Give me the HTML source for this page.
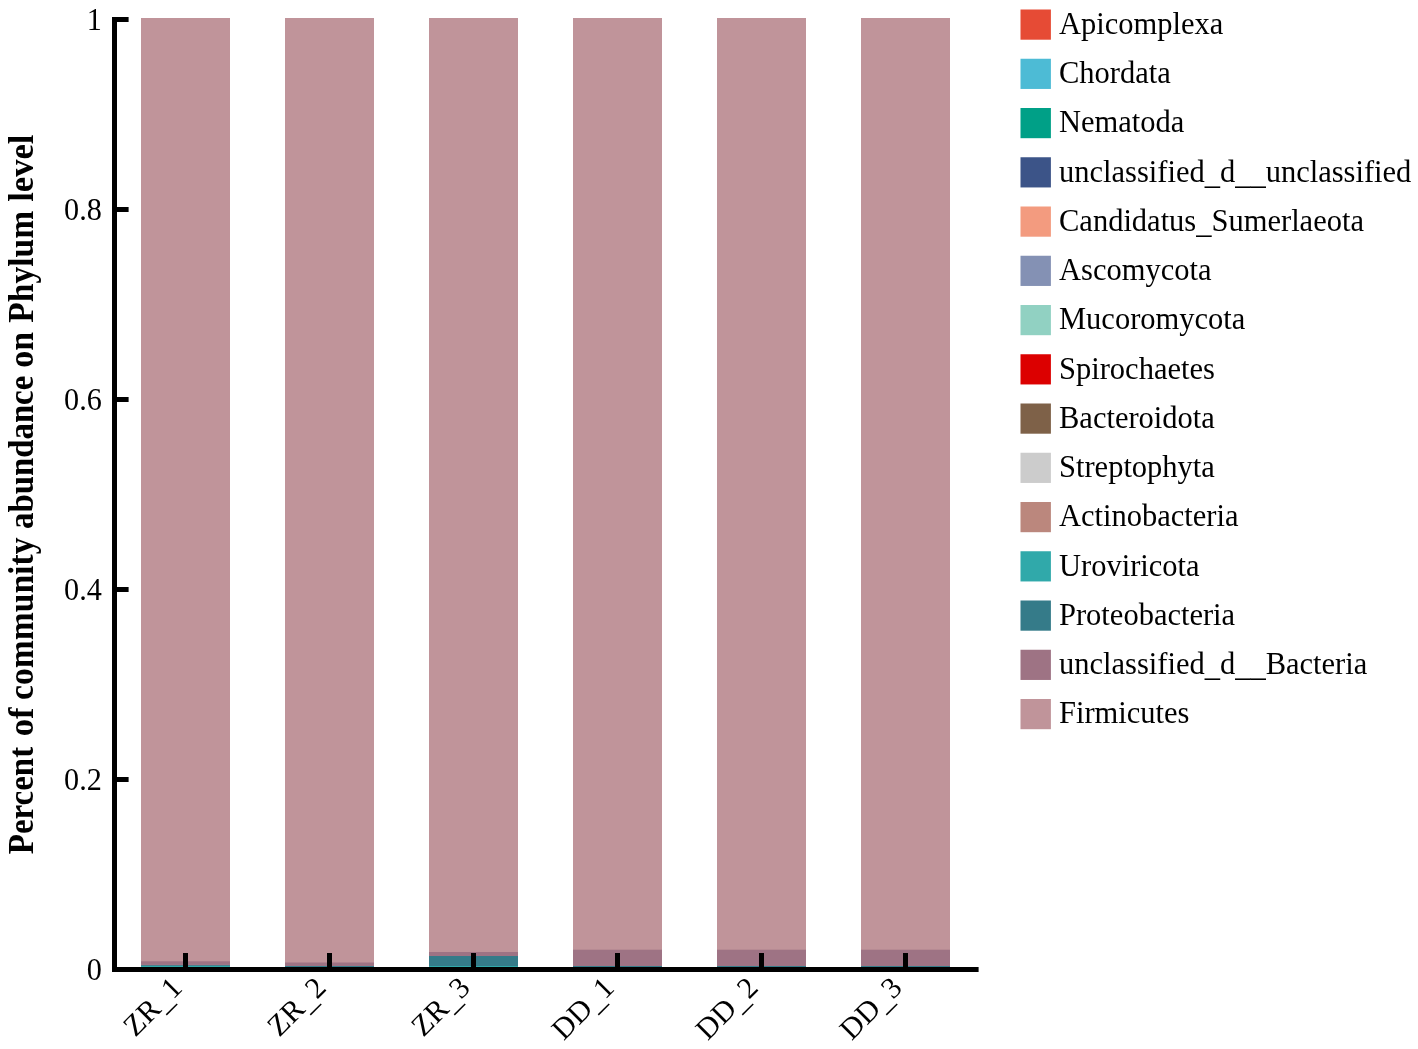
<!DOCTYPE html><html><head><meta charset="utf-8"><style>html,body{margin:0;padding:0;background:#fff;overflow:hidden}svg{display:block;will-change:transform}text{font-family:"Liberation Serif",serif}</style></head><body><svg width="1418" height="1049" viewBox="0 0 1418 1049">
<rect width="1418" height="1049" fill="#fff"/>
<rect x="141" y="18.0" width="89" height="949.0" fill="#C0949A"/>
<rect x="141" y="965.80" width="89" height="1.20" fill="#30A9AA"/>
<rect x="141" y="964.80" width="89" height="1.00" fill="#357B89"/>
<rect x="141" y="961.30" width="89" height="3.50" fill="#9E7384"/>
<rect x="285" y="18.0" width="89" height="949.0" fill="#C0949A"/>
<rect x="285" y="966.00" width="89" height="1.00" fill="#357B89"/>
<rect x="285" y="962.50" width="89" height="3.50" fill="#9E7384"/>
<rect x="429" y="18.0" width="89" height="949.0" fill="#C0949A"/>
<rect x="429" y="966.00" width="89" height="1.00" fill="#30A9AA"/>
<rect x="429" y="956.00" width="89" height="10.00" fill="#357B89"/>
<rect x="429" y="952.00" width="89" height="4.00" fill="#9E7384"/>
<rect x="573" y="18.0" width="89" height="949.0" fill="#C0949A"/>
<rect x="573" y="966.00" width="89" height="1.00" fill="#357B89"/>
<rect x="573" y="949.70" width="89" height="16.30" fill="#9E7384"/>
<rect x="717" y="18.0" width="89" height="949.0" fill="#C0949A"/>
<rect x="717" y="966.00" width="89" height="1.00" fill="#357B89"/>
<rect x="717" y="949.70" width="89" height="16.30" fill="#9E7384"/>
<rect x="861" y="18.0" width="89" height="949.0" fill="#C0949A"/>
<rect x="861" y="966.00" width="89" height="1.00" fill="#357B89"/>
<rect x="861" y="949.70" width="89" height="16.30" fill="#9E7384"/>
<rect x="112" y="17" width="5" height="955" fill="#000"/>
<rect x="112" y="967" width="866.6" height="5" fill="#000"/>
<rect x="112" y="967.0" width="16.6" height="5" fill="#000"/>
<text transform="translate(101.8,979.90) scale(0.975,1)" text-anchor="end" font-family="Liberation Serif" font-size="31">0</text>
<rect x="112" y="777.0" width="16.6" height="5" fill="#000"/>
<text transform="translate(101.8,789.90) scale(0.975,1)" text-anchor="end" font-family="Liberation Serif" font-size="31">0.2</text>
<rect x="112" y="587.0" width="16.6" height="5" fill="#000"/>
<text transform="translate(101.8,599.90) scale(0.975,1)" text-anchor="end" font-family="Liberation Serif" font-size="31">0.4</text>
<rect x="112" y="397.0" width="16.6" height="5" fill="#000"/>
<text transform="translate(101.8,409.90) scale(0.975,1)" text-anchor="end" font-family="Liberation Serif" font-size="31">0.6</text>
<rect x="112" y="207.0" width="16.6" height="5" fill="#000"/>
<text transform="translate(101.8,219.90) scale(0.975,1)" text-anchor="end" font-family="Liberation Serif" font-size="31">0.8</text>
<rect x="112" y="17.0" width="16.6" height="5" fill="#000"/>
<text transform="translate(101.8,29.90) scale(0.975,1)" text-anchor="end" font-family="Liberation Serif" font-size="31">1</text>
<rect x="183.0" y="953" width="5" height="14" fill="#000"/>
<text transform="translate(183.5,989.3) rotate(-45)" text-anchor="end" font-family="Liberation Serif" font-size="30">ZR<tspan dy="2.8">_</tspan><tspan dy="-2.8">1</tspan></text>
<rect x="327.0" y="953" width="5" height="14" fill="#000"/>
<text transform="translate(327.5,989.3) rotate(-45)" text-anchor="end" font-family="Liberation Serif" font-size="30">ZR<tspan dy="2.8">_</tspan><tspan dy="-2.8">2</tspan></text>
<rect x="471.0" y="953" width="5" height="14" fill="#000"/>
<text transform="translate(471.5,989.3) rotate(-45)" text-anchor="end" font-family="Liberation Serif" font-size="30">ZR<tspan dy="2.8">_</tspan><tspan dy="-2.8">3</tspan></text>
<rect x="615.0" y="953" width="5" height="14" fill="#000"/>
<text transform="translate(615.5,989.3) rotate(-45)" text-anchor="end" font-family="Liberation Serif" font-size="30">DD<tspan dy="2.8">_</tspan><tspan dy="-2.8">1</tspan></text>
<rect x="759.0" y="953" width="5" height="14" fill="#000"/>
<text transform="translate(759.5,989.3) rotate(-45)" text-anchor="end" font-family="Liberation Serif" font-size="30">DD<tspan dy="2.8">_</tspan><tspan dy="-2.8">2</tspan></text>
<rect x="903.0" y="953" width="5" height="14" fill="#000"/>
<text transform="translate(903.5,989.3) rotate(-45)" text-anchor="end" font-family="Liberation Serif" font-size="30">DD<tspan dy="2.8">_</tspan><tspan dy="-2.8">3</tspan></text>
<rect x="1020.5" y="9.50" width="30.4" height="30.2" fill="#E64B35"/>
<text x="1059" y="33.90" font-family="Liberation Serif" font-size="30.5">Apicomplexa</text>
<rect x="1020.5" y="58.75" width="30.4" height="30.2" fill="#4DBBD5"/>
<text x="1059" y="83.15" font-family="Liberation Serif" font-size="30.5">Chordata</text>
<rect x="1020.5" y="108.00" width="30.4" height="30.2" fill="#00A087"/>
<text x="1059" y="132.40" font-family="Liberation Serif" font-size="30.5">Nematoda</text>
<rect x="1020.5" y="157.25" width="30.4" height="30.2" fill="#3C5488"/>
<text x="1059" y="181.65" font-family="Liberation Serif" font-size="30.5">unclassified<tspan dy="2.3">_</tspan><tspan dy="-2.3">d</tspan><tspan dy="2.3">_</tspan><tspan dy="0">_</tspan><tspan dy="-2.3">u</tspan>nclassified</text>
<rect x="1020.5" y="206.50" width="30.4" height="30.2" fill="#F39B7F"/>
<text x="1059" y="230.90" font-family="Liberation Serif" font-size="30.5">Candidatus<tspan dy="2.3">_</tspan><tspan dy="-2.3">S</tspan>umerlaeota</text>
<rect x="1020.5" y="255.75" width="30.4" height="30.2" fill="#8491B4"/>
<text x="1059" y="280.15" font-family="Liberation Serif" font-size="30.5">Ascomycota</text>
<rect x="1020.5" y="305.00" width="30.4" height="30.2" fill="#91D1C2"/>
<text x="1059" y="329.40" font-family="Liberation Serif" font-size="30.5">Mucoromycota</text>
<rect x="1020.5" y="354.25" width="30.4" height="30.2" fill="#DC0000"/>
<text x="1059" y="378.65" font-family="Liberation Serif" font-size="30.5">Spirochaetes</text>
<rect x="1020.5" y="403.50" width="30.4" height="30.2" fill="#7E6148"/>
<text x="1059" y="427.90" font-family="Liberation Serif" font-size="30.5">Bacteroidota</text>
<rect x="1020.5" y="452.75" width="30.4" height="30.2" fill="#CCCCCC"/>
<text x="1059" y="477.15" font-family="Liberation Serif" font-size="30.5">Streptophyta</text>
<rect x="1020.5" y="502.00" width="30.4" height="30.2" fill="#BB877D"/>
<text x="1059" y="526.40" font-family="Liberation Serif" font-size="30.5">Actinobacteria</text>
<rect x="1020.5" y="551.25" width="30.4" height="30.2" fill="#30A9AA"/>
<text x="1059" y="575.65" font-family="Liberation Serif" font-size="30.5">Uroviricota</text>
<rect x="1020.5" y="600.50" width="30.4" height="30.2" fill="#357B89"/>
<text x="1059" y="624.90" font-family="Liberation Serif" font-size="30.5">Proteobacteria</text>
<rect x="1020.5" y="649.75" width="30.4" height="30.2" fill="#9E7384"/>
<text x="1059" y="674.15" font-family="Liberation Serif" font-size="30.5">unclassified<tspan dy="2.3">_</tspan><tspan dy="-2.3">d</tspan><tspan dy="2.3">_</tspan><tspan dy="0">_</tspan><tspan dy="-2.3">B</tspan>acteria</text>
<rect x="1020.5" y="699.00" width="30.4" height="30.2" fill="#C0949A"/>
<text x="1059" y="723.40" font-family="Liberation Serif" font-size="30.5">Firmicutes</text>
<text transform="translate(32.9,854.20) rotate(-90) scale(0.9154,1)" font-family="Liberation Serif" font-weight="bold" font-size="36">Percent</text>
<text transform="translate(32.9,736.36) rotate(-90) scale(0.9600,1)" font-family="Liberation Serif" font-weight="bold" font-size="36">of</text>
<text transform="translate(32.9,699.93) rotate(-90) scale(0.9335,1)" font-family="Liberation Serif" font-weight="bold" font-size="36">community</text>
<text transform="translate(32.9,528.91) rotate(-90) scale(0.9114,1)" font-family="Liberation Serif" font-weight="bold" font-size="36">abundance</text>
<text transform="translate(32.9,367.64) rotate(-90) scale(0.9405,1)" font-family="Liberation Serif" font-weight="bold" font-size="36">on</text>
<text transform="translate(32.9,322.70) rotate(-90) scale(0.9328,1)" font-family="Liberation Serif" font-weight="bold" font-size="36">Phylum</text>
<text transform="translate(32.9,201.80) rotate(-90) scale(0.9600,1)" font-family="Liberation Serif" font-weight="bold" font-size="36">level</text>
</svg></body></html>
